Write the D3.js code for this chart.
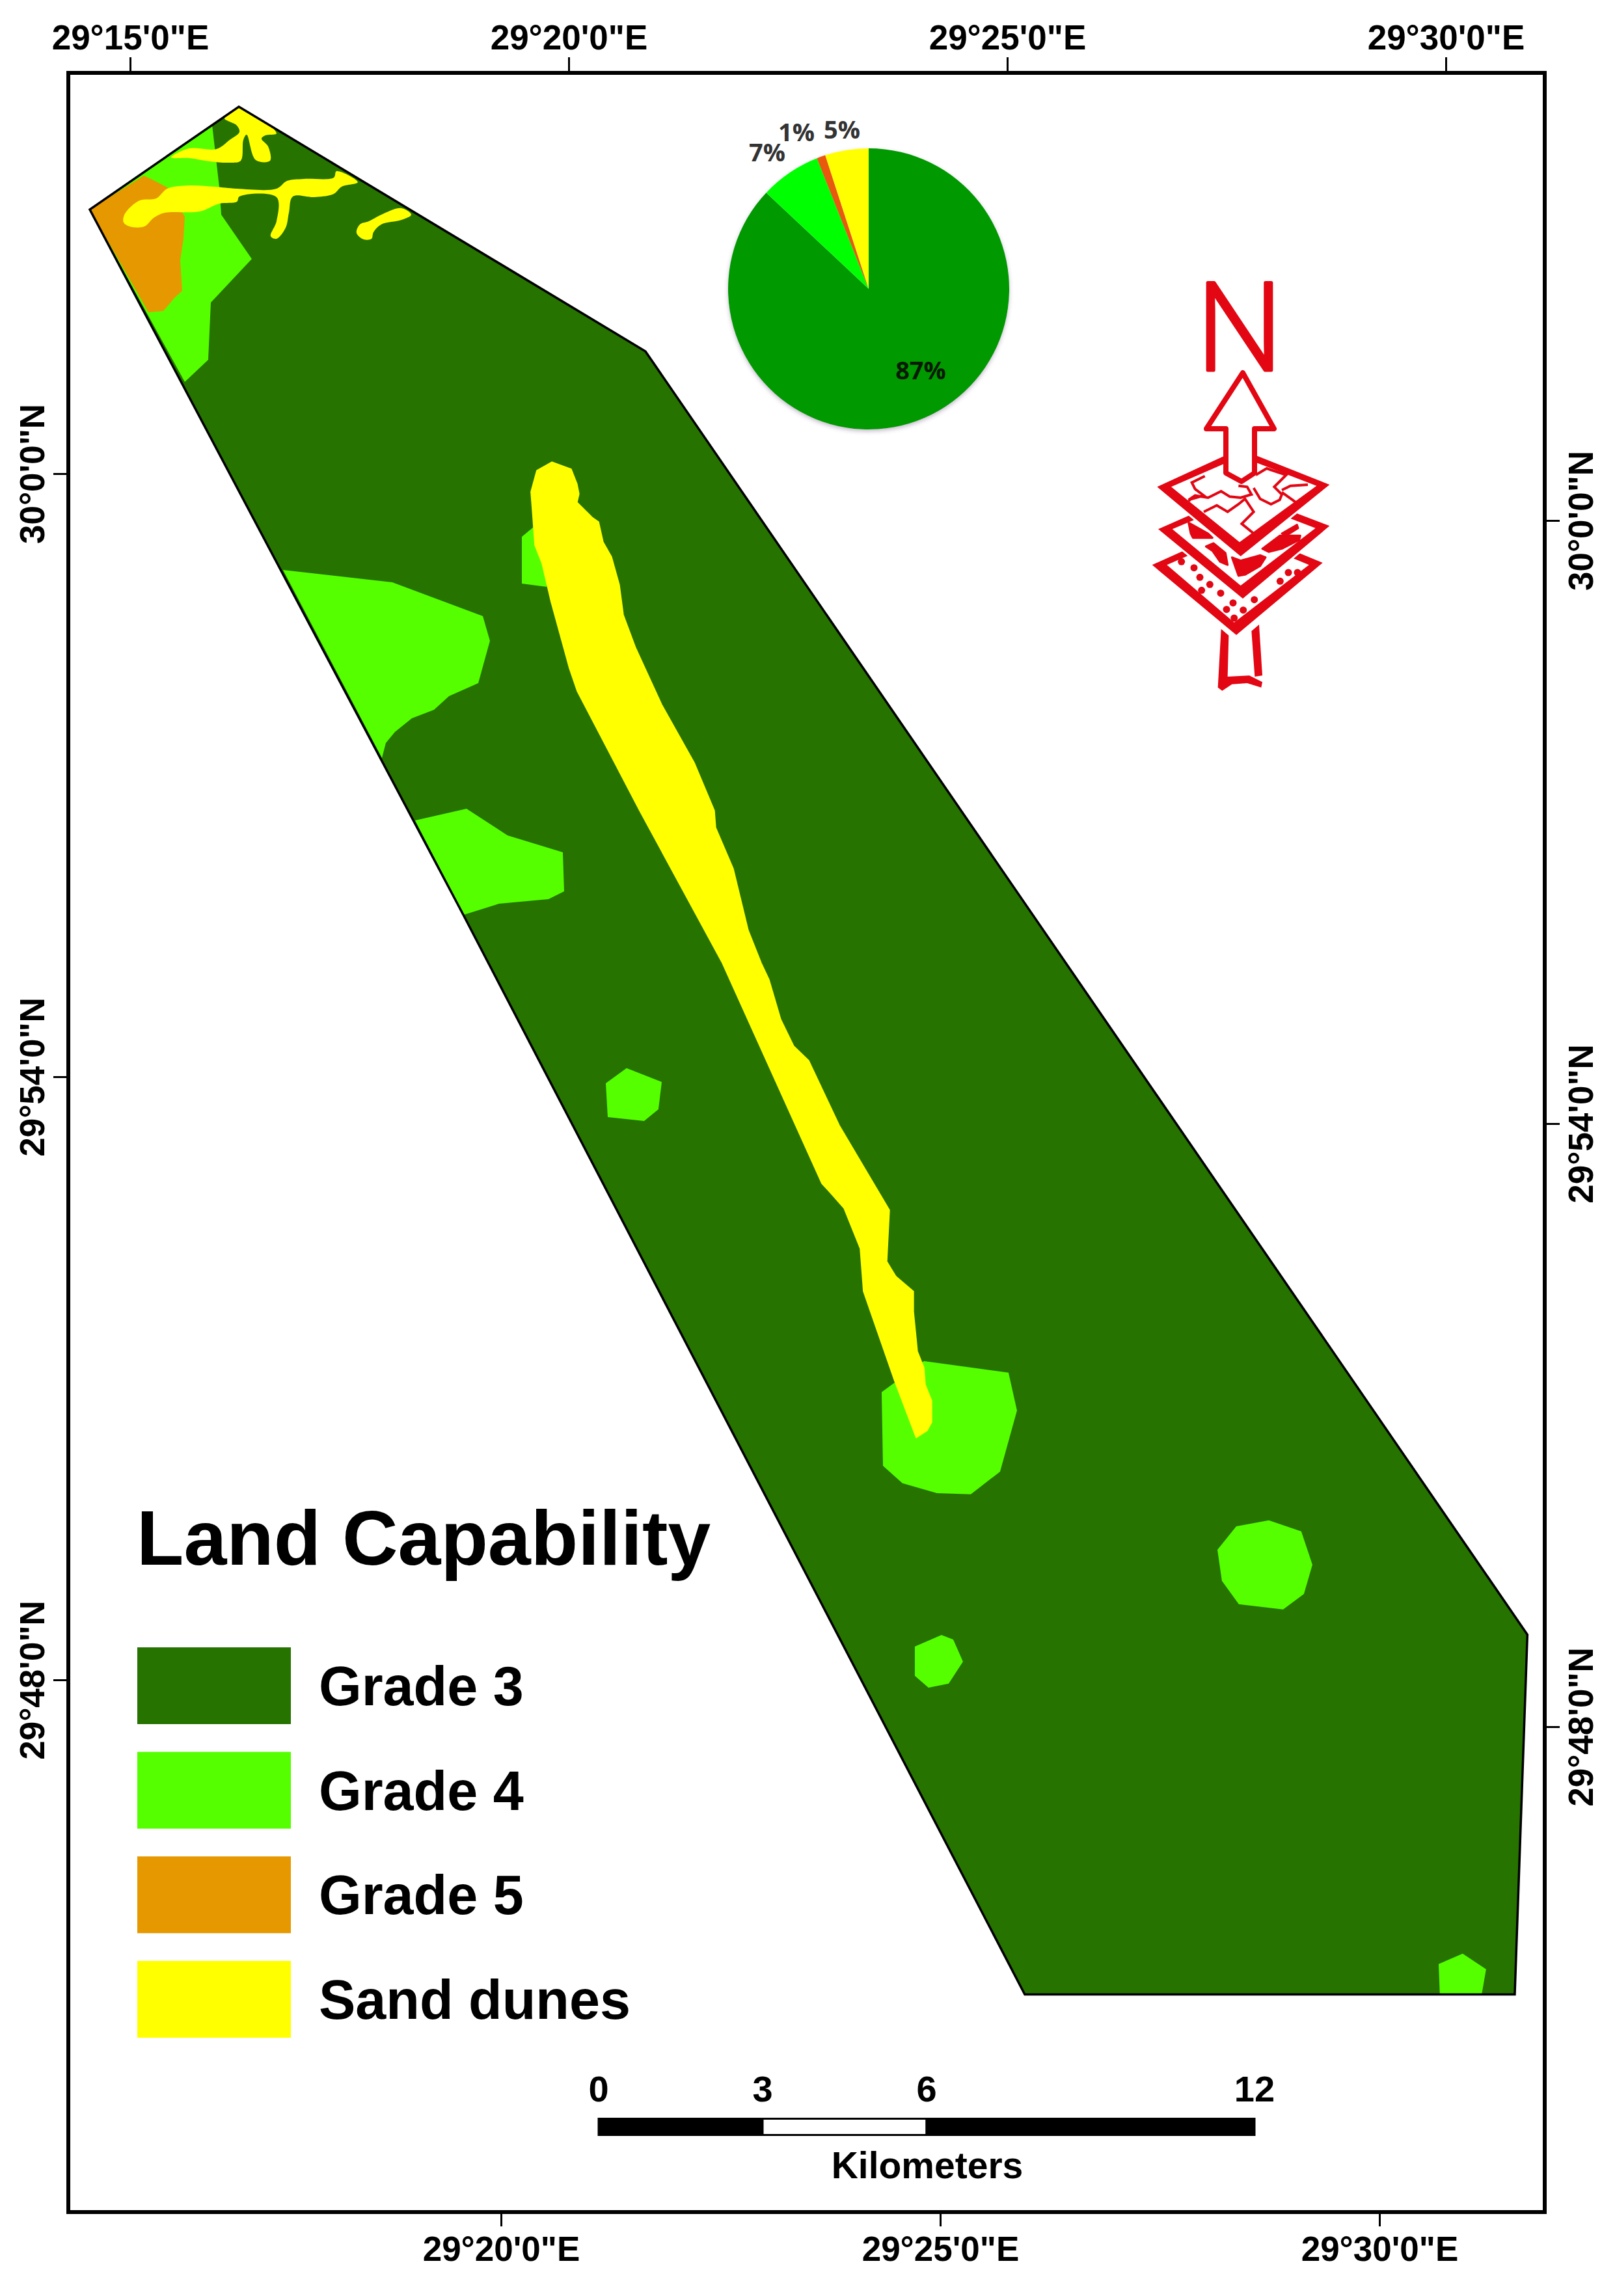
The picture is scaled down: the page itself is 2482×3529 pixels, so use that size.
<!DOCTYPE html>
<html>
<head>
<meta charset="utf-8">
<title>Land Capability</title>
<script src="https://cdnjs.cloudflare.com/ajax/libs/d3/7.8.5/d3.min.js"></script>
<style>
  html, body { margin: 0; padding: 0; background: #fff; }
  svg { display: block; }
  text { font-family: "Liberation Sans", Arial, sans-serif; font-weight: bold; fill: #000; }
</style>
</head>
<body>
<svg></svg>
<script>
// land classes
const classes = ["Grade 3", "Grade 4", "Grade 5", "Sand dunes"];
const classColors = ["#267300", "#55ff00", "#e69800", "#ffff00"];

// pie: share of the area, clockwise from north
const pieValues = [87, 7, 1, 5];
const pieLabels = ["87%", "7%", "1%", "5%"];
const pieColors = ["#009900", "#00ff00", "#e8590c", "#ffff00"];
const pieLabelOffsets = [[80, 139], [-156, -196], [-111, -227], [-41, -231]];

// graticule, minutes past 29 degrees
const lonTicksTop = [15, 20, 25, 30];
const lonTicksBottom = [20, 25, 30];
const latTicksLeft = [60, 54, 48];
const latTicksRight = [60, 54, 48];
const scaleBarKm = [0, 3, 6, 12];

// polygons as [lon, lat], minutes past 29E and 29N
const studyArea = [[16.239,63.650],[20.875,61.217],[30.930,48.450],[30.786,44.870],[25.200,44.870],[18.798,55.612],[14.540,62.628]];

const grade4Areas = [
  [[15.935,63.469],[16.016,62.854],[16.039,62.576],[16.387,62.136],[15.920,61.702],[15.890,61.133],[15.623,60.913],[14.540,62.628]],
  [[19.599,59.469],[19.466,59.372],[19.466,58.906],[19.748,58.874],[19.822,59.210]],
  [[16.743,59.042],[17.989,58.919],[19.021,58.583],[19.102,58.337],[18.969,57.916],[18.635,57.787],[18.464,57.651],[18.212,57.567],[18.019,57.431],[17.915,57.321],[17.871,57.172]],
  [[18.249,56.550],[18.835,56.667],[19.302,56.402],[19.933,56.233],[19.948,55.845],[19.770,55.767],[19.206,55.722],[18.805,55.612]],
  [[20.423,53.936],[20.660,54.085],[21.061,53.949],[21.023,53.677],[20.860,53.560],[20.445,53.599]],
  [[23.568,50.862],[24.050,51.172],[25.014,51.056],[25.111,50.680],[24.918,50.072],[24.584,49.846],[24.198,49.858],[23.805,49.956],[23.583,50.130]],
  [[27.982,49.587],[28.352,49.477],[28.479,49.146],[28.382,48.855],[28.145,48.700],[27.640,48.752],[27.447,48.985],[27.396,49.295],[27.611,49.528]],
  [[23.946,48.331],[24.250,48.447],[24.384,48.402],[24.495,48.182],[24.332,47.962],[24.102,47.923],[23.946,48.040]],
  [[30.192,45.276],[30.459,45.121],[30.407,44.860],[29.932,44.860],[29.918,45.173]]
];

const grade5Areas = [
  [[14.540,62.628],[15.156,62.964],[15.237,62.932],[15.423,62.848],[15.623,62.556],[15.608,62.336],[15.571,62.123],[15.593,61.819],[15.504,61.747],[15.378,61.618],[15.208,61.605]]
];

const duneBranches = [
  [[16.239,63.650],[16.669,63.385],[16.543,63.365],[16.498,63.333],[16.573,63.255],[16.595,63.113],[16.432,63.120],[16.328,63.372],[16.291,63.320],[16.261,63.113],[16.135,63.094],[15.905,63.107],[15.675,63.139],[15.467,63.145],[15.675,63.236],[15.987,63.230],[16.135,63.320],[16.246,63.398],[16.217,63.463],[16.135,63.501],[16.076,63.534]],
  [[14.926,62.556],[14.970,62.621],[15.111,62.718],[15.297,62.738],[15.423,62.835],[15.675,62.867],[15.964,62.854],[16.217,62.835],[16.669,62.835],[16.788,62.912],[16.981,62.932],[17.322,62.945],[17.352,63.009],[17.596,62.899],[17.411,62.854],[17.322,62.783],[17.099,62.751],[16.855,62.757],[16.810,62.595],[16.773,62.446],[16.669,62.336],[16.602,62.362],[16.669,62.511],[16.669,62.751],[16.246,62.757],[16.217,62.705],[16.016,62.686],[15.794,62.608],[15.393,62.595],[15.267,62.543],[15.163,62.459],[14.993,62.459],[14.926,62.498]],
  [[18.093,62.641],[18.205,62.576],[18.093,62.524],[17.863,62.479],[17.774,62.401],[17.752,62.336],[17.663,62.330],[17.581,62.395],[17.619,62.479],[17.722,62.511],[17.863,62.576]]
];
const duneRidge = [[19.807,60.116],[20.029,60.045],[20.096,59.896],[20.118,59.799],[20.096,59.715],[20.267,59.566],[20.341,59.521],[20.393,59.320],[20.489,59.172],[20.578,58.893],[20.623,58.596],[20.764,58.266],[21.061,57.702],[21.431,57.126],[21.661,56.648],[21.676,56.479],[21.876,56.071],[22.047,55.457],[22.195,55.133],[22.285,54.965],[22.418,54.570],[22.566,54.305],[22.737,54.162],[23.086,53.515],[23.657,52.674],[23.627,52.162],[23.731,52.014],[23.931,51.865],[23.931,51.664],[23.976,51.269],[24.050,51.107],[24.065,50.939],[24.139,50.777],[24.139,50.564],[24.087,50.480],[23.961,50.409],[23.716,50.972],[23.360,51.865],[23.323,52.292],[23.138,52.693],[22.974,52.855],[22.885,52.939],[21.750,55.133],[20.808,56.648],[20.096,57.838],[20.007,58.065],[19.799,58.725],[19.696,59.107],[19.614,59.288],[19.584,59.651],[19.569,59.819],[19.636,60.032]];

// north arrow icon, traced in its own grid
const iconArrow = [[480,-321],[624,-63],[534,-63],[534,141],[474,180],[402,141],[402,-63],[312,-63]];
const iconPlates = [
  { outer: [[62,565],[450,390],[848,555],[450,888]], inner: [[130,565],[450,425],[785,565],[440,830]] },
  { outer: [[90,400],[475,230],[880,385],[480,720]], inner: [[155,400],[475,265],[815,395],[470,660]] },
  { outer: [[85,205],[465,30],[880,195],[470,525]], inner: [[150,205],[470,65],[820,200],[465,460]] }
];
const iconRoads = [
  [[305,155],[245,185],[260,215],[300,245],[240,262],[230,270]],
  [[230,265],[260,245],[320,255],[380,225],[420,250],[470,255],[520,240],[500,205],[460,200]],
  [[300,320],[360,290],[410,320],[460,285],[490,260],[530,320],[475,375],[530,420]],
  [[530,210],[560,260],[610,285],[650,265],[660,240],[625,205],[680,150],[590,120],[540,150]],
  [[660,230],[730,280]],
  [[660,220],[700,200],[780,195]]
];
const iconBlobs = [
  [[230,370],[320,420],[340,440],[250,440],[240,420]],
  [[310,480],[345,465],[400,510],[410,565],[375,550],[340,500]],
  [[430,530],[470,545],[560,520],[585,530],[560,570],[490,610],[460,615]],
  [[570,490],[650,430],[745,430],[740,450],[660,490],[600,505]],
  [[660,420],[730,380],[735,395],[680,430]]
];
const iconDots = [[197,550],[255,578],[282,622],[328,655],[290,682],[378,695],[435,740],[405,770],[482,773],[533,725],[652,640],[690,600],[732,600],[440,810]];
const iconStem = [
  [[380,860],[415,890],[410,1080],[510,1075],[570,1105],[565,1130],[500,1110],[430,1115],[385,1145],[365,1130]],
  [[520,870],[555,840],[570,1075],[535,1080]]
];

const W = 2482, H = 3529;
const frame = { left: 105, top: 112, right: 2374, bottom: 3400 };
const RED = "#e30613";

const svg = d3.select("svg").attr("width", W).attr("height", H).attr("viewBox", `0 0 ${W} ${H}`);
svg.append("rect").attr("width", W).attr("height", H).attr("fill", "#fff");

// scales, the graticule is tilted so each side has its own
const lonTop = d3.scaleLinear().domain([15, 30]).range([200, 2222]);
const lonBottom = d3.scaleLinear().domain([20, 30]).range([770, 2120]);
const latLeft = d3.scaleLinear().domain([60, 48]).range([728, 2582]);
const latRight = d3.scaleLinear().domain([60, 48]).range([800, 2654]);

const mapLine = d3.line().x(d => lonTop(d[0])).y(d => latLeft(d[1]));
const polygon = pts => mapLine(pts) + "Z";
const roundLine = d3.line().x(d => lonTop(d[0])).y(d => latLeft(d[1])).curve(d3.curveCatmullRomClosed.alpha(0.5));

// map
svg.append("defs").append("clipPath").attr("id", "study-clip")
  .append("path").attr("d", polygon(studyArea));

svg.append("path").attr("d", polygon(studyArea)).attr("fill", classColors[0]);

const patches = svg.append("g").attr("clip-path", "url(#study-clip)");
[[grade4Areas, classColors[1]], [grade5Areas, classColors[2]]].forEach(([areas, color]) => {
  patches.append("g")
    .selectAll("path")
    .data(areas)
    .enter()
    .append("path")
    .attr("d", polygon)
    .attr("fill", color);
});
patches.append("g")
  .selectAll("path")
  .data(duneBranches)
  .enter()
  .append("path")
  .attr("d", roundLine)
  .attr("fill", classColors[3]);
patches.append("path")
  .attr("d", polygon(duneRidge))
  .attr("fill", classColors[3])
  .attr("stroke", classColors[3])
  .attr("stroke-width", 1.5)
  .attr("stroke-linejoin", "round");

svg.append("path")
  .attr("d", polygon(studyArea))
  .attr("fill", "none")
  .attr("stroke", "#000")
  .attr("stroke-width", 3.5)
  .attr("stroke-linejoin", "miter");

// frame and axes
svg.append("rect")
  .attr("x", frame.left)
  .attr("y", frame.top)
  .attr("width", frame.right - frame.left)
  .attr("height", frame.bottom - frame.top)
  .attr("fill", "none")
  .attr("stroke", "#000")
  .attr("stroke-width", 6);

const styleAxis = g => {
  g.select(".domain").remove();
  g.selectAll("line").attr("stroke", "#000").attr("stroke-width", 3);
  g.selectAll("text")
    .style("font-family", '"Liberation Sans", Arial, sans-serif')
    .style("font-weight", "bold")
    .style("font-size", "53px")
    .attr("fill", "#000");
};
const lonLabel = m => `29°${m}'0"E`;
const latLabel = m => (m === 60 ? `30°0'0"N` : `29°${m}'0"N`);

svg.append("g")
  .attr("transform", `translate(0,${frame.top})`)
  .call(d3.axisTop(lonTop).tickValues(lonTicksTop).tickFormat(lonLabel).tickSize(24).tickPadding(12))
  .call(styleAxis);

svg.append("g")
  .attr("transform", `translate(0,${frame.bottom})`)
  .call(d3.axisBottom(lonBottom).tickValues(lonTicksBottom).tickFormat(lonLabel).tickSize(22))
  .call(styleAxis)
  .call(g => g.selectAll("text").attr("y", 75).attr("dy", 0));

svg.append("g")
  .attr("transform", `translate(${frame.left},0)`)
  .call(d3.axisLeft(latLeft).tickValues(latTicksLeft).tickFormat(latLabel).tickSize(23))
  .call(styleAxis)
  .call(g => g.selectAll("text")
    .attr("x", 0).attr("dy", 0).attr("y", -37)
    .attr("text-anchor", "middle")
    .attr("transform", "rotate(-90)"));

svg.append("g")
  .attr("transform", `translate(${frame.right},0)`)
  .call(d3.axisRight(latRight).tickValues(latTicksRight).tickFormat(latLabel).tickSize(23))
  .call(styleAxis)
  .call(g => g.selectAll("text")
    .attr("x", 0).attr("dy", 0).attr("y", 74)
    .attr("text-anchor", "middle")
    .attr("transform", "rotate(-90)"));

// pie
const pieShadow = svg.select("defs").append("filter").attr("id", "pie-shadow")
  .attr("x", "-10%").attr("y", "-10%").attr("width", "120%").attr("height", "120%");
pieShadow.append("feDropShadow")
  .attr("dx", 0).attr("dy", 3).attr("stdDeviation", 3)
  .attr("flood-color", "#5a3a6a").attr("flood-opacity", 0.35);

const pieG = svg.append("g").attr("transform", "translate(1335,444)");
const arcs = d3.pie().sort(null)(pieValues);
const arc = d3.arc().innerRadius(0).outerRadius(216);
pieG.append("g")
  .attr("filter", "url(#pie-shadow)")
  .selectAll("path")
  .data(arcs)
  .enter()
  .append("path")
  .attr("d", arc)
  .attr("fill", (d, i) => pieColors[i]);
pieG.selectAll("text")
  .data(pieLabels)
  .enter()
  .append("text")
  .attr("x", (d, i) => pieLabelOffsets[i][0])
  .attr("y", (d, i) => pieLabelOffsets[i][1])
  .attr("text-anchor", "middle")
  .style("font-family", '"Open Sans", sans-serif')
  .style("font-weight", 700)
  .style("font-size", "38px")
  .style("fill", (d, i) => (i === 0 ? "#0a1a00" : "#333"))
  .text(d => d);

// north arrow
const iconX = d3.scaleLinear().domain([0, 1050]).range([1750, 2100]);
const iconY = d3.scaleLinear().domain([0, 1200]).range([680, 1080]);
const iconLine = d3.line().x(d => iconX(d[0])).y(d => iconY(d[1]));
const north = svg.append("g");

north.selectAll("path.stem")
  .data(iconStem)
  .enter()
  .append("path")
  .attr("class", "stem")
  .attr("d", d => iconLine(d) + "Z")
  .attr("fill", RED);

iconPlates.forEach(plate => {
  north.append("path")
    .attr("d", iconLine(plate.outer) + "Z")
    .attr("fill", "#fff")
    .attr("stroke", "#fff")
    .attr("stroke-width", 6);
  north.append("path")
    .attr("d", iconLine(plate.outer) + "Z" + iconLine(plate.inner) + "Z")
    .attr("fill", RED)
    .attr("fill-rule", "evenodd");
});

north.selectAll("circle")
  .data(iconDots)
  .enter()
  .append("circle")
  .attr("cx", d => iconX(d[0]))
  .attr("cy", d => iconY(d[1]))
  .attr("r", 5.5)
  .attr("fill", RED);

north.selectAll("path.blob")
  .data(iconBlobs)
  .enter()
  .append("path")
  .attr("class", "blob")
  .attr("d", d => iconLine(d) + "Z")
  .attr("fill", RED)
  .attr("stroke", RED)
  .attr("stroke-width", 3)
  .attr("stroke-linejoin", "round");

north.selectAll("path.road")
  .data(iconRoads)
  .enter()
  .append("path")
  .attr("class", "road")
  .attr("d", iconLine)
  .attr("fill", "none")
  .attr("stroke", RED)
  .attr("stroke-width", 4);

north.append("path")
  .attr("d", iconLine(iconArrow) + "Z")
  .attr("fill", "#fff")
  .attr("stroke", RED)
  .attr("stroke-width", 8)
  .attr("stroke-linejoin", "round");

north.append("text")
  .attr("x", 1905)
  .attr("y", 569)
  .attr("text-anchor", "middle")
  .style("font-family", '"Open Sans", sans-serif')
  .style("font-weight", 300)
  .style("font-size", "188px")
  .style("fill", RED)
  .style("stroke", RED)
  .style("stroke-width", 5)
  .style("stroke-linejoin", "round")
  .text("N");

// legend
svg.append("text")
  .attr("x", 210)
  .attr("y", 2405)
  .style("font-size", "118.5px")
  .text("Land Capability");

const legendY = d3.scalePoint().domain(classes).range([2532, 3014]);
const legend = svg.append("g")
  .selectAll("g")
  .data(classes)
  .enter()
  .append("g")
  .attr("transform", d => `translate(211,${legendY(d)})`);
legend.append("rect")
  .attr("width", 236)
  .attr("height", 118)
  .attr("fill", (d, i) => classColors[i]);
legend.append("text")
  .attr("x", 279)
  .attr("y", 89)
  .style("font-size", "84.5px")
  .text(d => d);

// scale bar
const kmX = d3.scaleLinear().domain([0, 12]).range([920, 1928]);
const barY = 3256.5, barH = 25;
svg.append("g")
  .selectAll("rect")
  .data(d3.pairs(scaleBarKm))
  .enter()
  .append("rect")
  .attr("x", d => kmX(d[0]))
  .attr("y", barY)
  .attr("width", d => kmX(d[1]) - kmX(d[0]))
  .attr("height", barH)
  .attr("fill", (d, i) => (i === 1 ? "#fff" : "#000"))
  .attr("stroke", "#000")
  .attr("stroke-width", 3);
svg.append("g")
  .selectAll("text")
  .data(scaleBarKm)
  .enter()
  .append("text")
  .attr("x", d => kmX(d))
  .attr("y", 3230)
  .attr("text-anchor", "middle")
  .style("font-size", "56px")
  .text(d => d);
svg.append("text")
  .attr("x", 1425)
  .attr("y", 3348)
  .attr("text-anchor", "middle")
  .style("font-size", "57px")
  .text("Kilometers");
</script>
</body>
</html>
